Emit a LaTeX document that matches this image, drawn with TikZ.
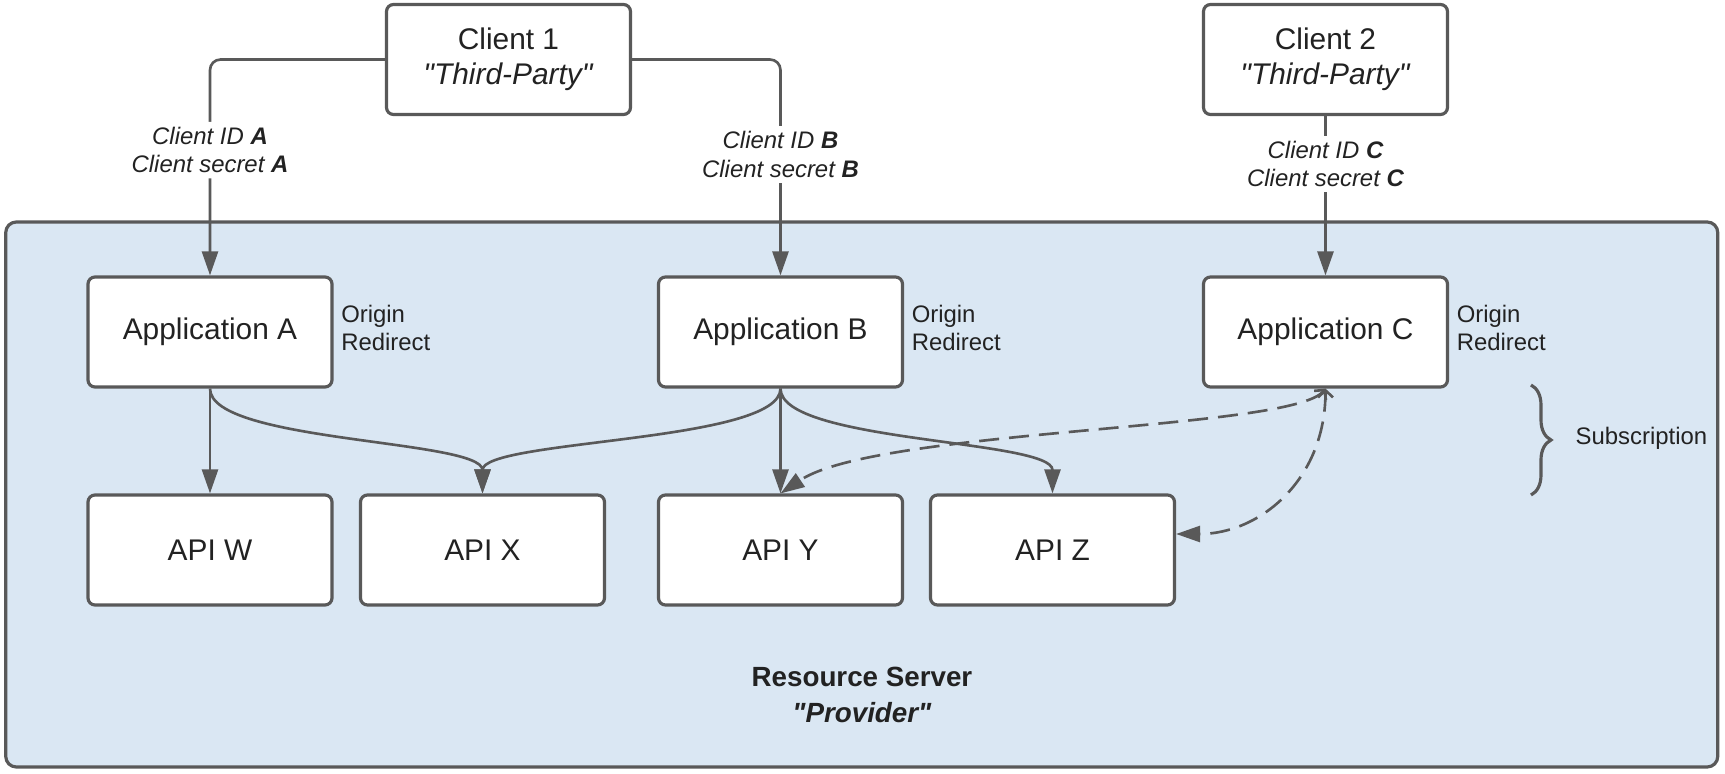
\documentclass[tikz,border=0pt]{standalone}
\usepackage{fontspec}
\setmainfont{Liberation Sans}
\usetikzlibrary{positioning,arrows.meta,decorations.pathreplacing}
\definecolor{linegray}{HTML}{595959}
\definecolor{servblue}{HTML}{DAE7F3}
\definecolor{txtgray}{HTML}{222222}
\newcommand{\qt}[1]{\textquotedbl#1\textquotedbl}
\tikzset{
	%estils dels nodes i fletxes
	appbox/.style = {rectangle, rounded corners=2pt, draw=linegray, fill=white,
	                 line width=0.9pt, minimum width=2.44cm, minimum height=1.1cm,
	                 align=center, text=txtgray, font=\fontsize{8.5}{10}\selectfont},
	server/.style = {rectangle, rounded corners=3pt, draw=linegray, fill=servblue,
	                 line width=0.9pt, minimum width=17.12cm, minimum height=5.45cm},
	conn/.style   = {draw=linegray, line width=0.75pt, -{Triangle[length=0.24cm,width=0.16cm]}},
	subs/.style   = {conn, dash pattern=on 0.2cm off 0.1cm,
	                 {Straight Barb[length=0.07cm,width=0.15cm]}-{Triangle[length=0.24cm,width=0.16cm]}},
	lbl/.style    = {fill=white, align=center, inner sep=1.5pt, text=txtgray,
	                 font=\fontsize{6.8}{8.1}\selectfont\itshape},
	orig/.style   = {align=left, inner sep=0pt, text=txtgray, font=\fontsize{6.8}{8.1}\selectfont},
	rstitle/.style = {align=center, text=txtgray, font=\fontsize{7.9}{10}\selectfont\bfseries}
}
\begin{document}
\begin{tikzpicture}
	\useasboundingbox (0,0) rectangle (17.25,7.73);
	%nodes
	\node[server] (rs) at (8.6175, 2.785) {};
	\node[rstitle] (rsname) at (8.62, 0.78) {Resource Server\\\textit{\qt{Provider}}};
	\node[appbox] (client1) at (5.085, 7.135) {Client 1\\\textit{\qt{Third-Party}}};
	\node[appbox] (client2) at (13.255, 7.135) {Client 2\\\textit{\qt{Third-Party}}};
	\node[appbox] (appA) at (2.10, 4.41) {Application A};
	\node[appbox] (appB) at (7.805, 4.41) {Application B};
	\node[appbox] (appC) at (13.255, 4.41) {Application C};
	\node[appbox] (apiW) at (2.10, 2.23) {API W};
	\node[appbox] (apiX) at (4.825, 2.23) {API X};
	\node[appbox] (apiY) at (7.805, 2.23) {API Y};
	\node[appbox] (apiZ) at (10.525, 2.23) {API Z};
	\node[orig, right=0.07cm of appA.east, yshift=0.04cm] (origA) {Origin\\Redirect};
	\node[orig, right=0.07cm of appB.east, yshift=0.04cm] (origB) {Origin\\Redirect};
	\node[orig, right=0.07cm of appC.east, yshift=0.04cm] (origC) {Origin\\Redirect};
	\coordinate (subT) at (15.31, 3.88);
	\coordinate (subB) at (15.31, 2.78);
	\node[orig, anchor=west] (subtxt) at (15.75, 3.35) {Subscription};
	%arrows
	\draw[conn, rounded corners=3pt] (client1.west) -| node[lbl, pos=0.71] {Client ID \textbf{A}\\Client secret \textbf{A}} (appA.north);
	\draw[conn, rounded corners=3pt] (client1.east) -| node[lbl, pos=0.72] {Client ID \textbf{B}\\Client secret \textbf{B}} (appB.north);
	\draw[conn] (client2.south) -- node[lbl, pos=0.3] {Client ID \textbf{C}\\Client secret \textbf{C}} (appC.north);
	\draw[conn] (appA.south) -- (apiW.north);
	\draw[conn] (appA.south) .. controls +(0,-0.54) and +(0,0.54) .. (apiX.north);
	\draw[conn] (appB.south) .. controls +(0,-0.54) and +(0,0.54) .. (apiX.north);
	\draw[conn] (appB.south) -- (apiY.north);
	\draw[conn] (appB.south) .. controls +(0,-0.54) and +(0,0.54) .. (apiZ.north);
	\draw[subs] (appC.south) .. controls +(-0.33,-0.42) and +(0.97,0.65) .. (apiY.north);
	\draw[subs] (appC.south) .. controls +(0,-0.92) and +(0.83,0) .. ([yshift=0.16cm]apiZ.east);
	\draw[linegray, line width=0.9pt, decorate, decoration={brace, amplitude=0.2cm}] (subT) -- (subB);
\end{tikzpicture}
\end{document}
